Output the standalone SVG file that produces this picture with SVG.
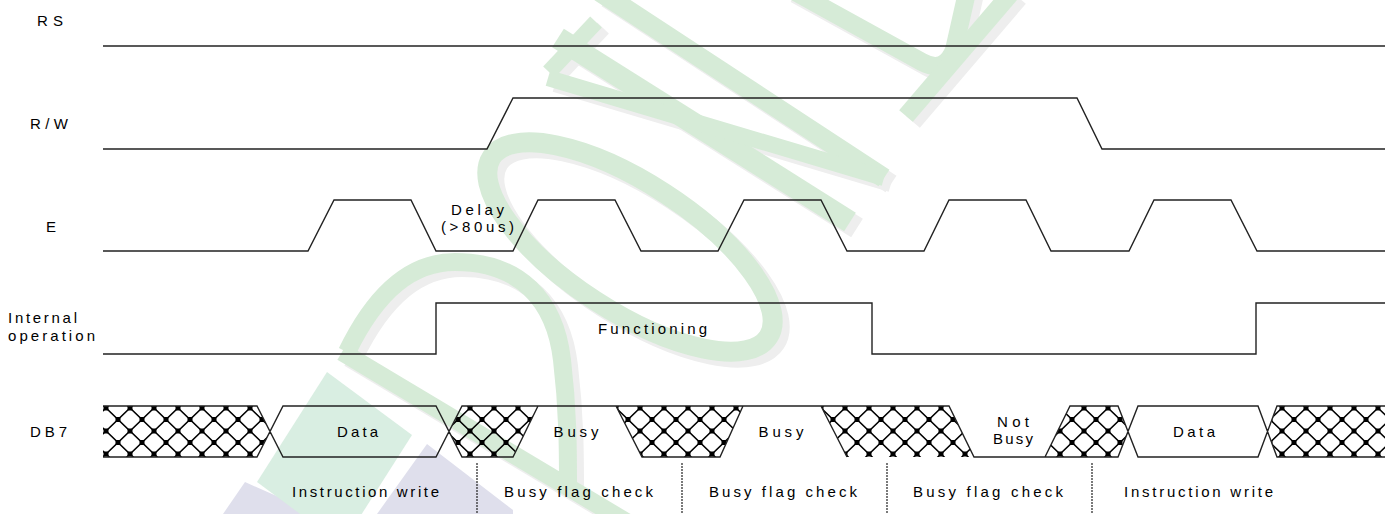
<svg xmlns="http://www.w3.org/2000/svg" xmlns:xlink="http://www.w3.org/1999/xlink" width="1397" height="514" viewBox="0 0 1397 514">
<style>
.sig{fill:none;stroke:#222;stroke-width:1.4;stroke-linejoin:miter}
.lbl{font-family:"Liberation Sans",Arial,sans-serif;font-size:15px;fill:#000}
.mid{text-anchor:middle}
.div{stroke:#222;stroke-width:1.2;stroke-dasharray:2 1}
</style>
<defs>
<pattern id="hx1" patternUnits="userSpaceOnUse" x="106" y="408" width="24" height="23">
<path d="M0,0L24,23M24,0L0,23" stroke="#000" stroke-width="1.6" fill="none"/>
<path d="M-2.5,-2.5h5v5h-5zM21.5,-2.5h5v5h-5zM-2.5,20.5h5v5h-5zM21.5,20.5h5v5h-5zM9.5,9h5v5h-5z" fill="#000"/>
</pattern>
<pattern id="hx2" xlink:href="#hx1" x="470"/>
<pattern id="hx3" xlink:href="#hx1" x="616"/>
<pattern id="hx4" xlink:href="#hx1" x="821"/>
<pattern id="hx5" xlink:href="#hx1" x="1060"/>
<pattern id="hx6" xlink:href="#hx1" x="1282"/>
<g id="wm-shapes" fill="none">
<path d="M342,352 L690,560" stroke-width="18"/>
<path d="M347,352 C378,288 414,262 455,262 C520,262 555,300 562,360 C568,410 568,450 568,487" stroke-width="18"/>
<ellipse cx="630" cy="247" rx="165" ry="64" transform="rotate(33 630 247)" stroke-width="20"/>
<path d="M600,-8 L884,178" stroke-width="20"/>
<path d="M558,38 L850,222" stroke-width="22"/>
<path d="M548,78 L884,178" stroke-width="16"/>
<path d="M549,72 L596,22" stroke-width="16"/>
<path d="M788,-12 L922,62 Q944,74 954,50 L968,-12" stroke-width="18"/>
<path d="M906,116 L1012,-8" stroke-width="18"/>
</g>
</defs>
<rect width="1397" height="514" fill="#fff"/>
<g id="watermark">
<polygon points="223,514 245,482 317,514" fill="#dfdfec"/>
<polygon points="377,514 427,444 513,510 513,514" fill="#dfdfec"/>
<polygon points="257,482 327,372 412,435 342,545" fill="#d9eee2"/>
<use xlink:href="#wm-shapes" transform="translate(7,6)" stroke="#eeeeee"/>
<use xlink:href="#wm-shapes" stroke="#d6ebd7"/>
</g>
<g id="labels-left">
<text class="lbl" x="37" y="26" textLength="26" lengthAdjust="spacing">RS</text>
<text class="lbl" x="30" y="129" textLength="38" lengthAdjust="spacing">R/W</text>
<text class="lbl" x="46" y="232">E</text>
<text class="lbl" x="8" y="323" textLength="69" lengthAdjust="spacing">Internal</text>
<text class="lbl" x="8" y="341" textLength="87" lengthAdjust="spacing">operation</text>
<text class="lbl" x="30" y="437" textLength="37" lengthAdjust="spacing">DB7</text>
</g>
<g id="connectors">
<path id="sig-rs" class="sig" d="M103,46 H1385"/>
<path id="sig-rw" class="sig" d="M103,149 H487 L513,98 H1077 L1102,149 H1385"/>
<path id="sig-e" class="sig" d="M103,251 H308 L334,200 H411 L436,251 H513 L538,200 H615 L641,251 H718 L744,200 H821 L847,251 H924 L949,200 H1026 L1051,251 H1129 L1154,200 H1231 L1257,251 H1385"/>
<path id="sig-int" class="sig" d="M103,354 H436 V303 H872 V354 H1256 V303 H1385"/>
</g>
<g id="db7">
<polygon points="103,406 257,406 270,431.5 257,457 103,457" fill="url(#hx1)"/>
<polygon points="449,431.5 462,406 538,406 513,457 462,457" fill="url(#hx2)"/>
<polygon points="616,406 743,406 720,457 642,457" fill="url(#hx3)"/>
<polygon points="821,406 949,406 974,457 847,457" fill="url(#hx4)"/>
<polygon points="1070,406 1118,406 1128,431.5 1118,457 1045,457" fill="url(#hx5)"/>
<polygon points="1268,431.5 1277,406 1385,406 1385,457 1277,457" fill="url(#hx6)"/>
<path class="sig" d="M103,406 H257 L283,457 H436 L462,406 H949 L974,457 H1118 L1138,406 H1258 L1277,457 H1385 M103,457 H257 L283,406 H436 L462,457 H513 L538,406 M616,406 L642,457 H720 L743,406 M821,406 L847,457 M1045,457 L1070,406 H1118 L1138,457 H1258 L1277,406 H1385"/>
</g>
<g id="text-labels">
<text class="lbl mid" x="477.5" y="215" textLength="53" lengthAdjust="spacing">Delay</text>
<text class="lbl mid" x="477.5" y="232" textLength="73" lengthAdjust="spacing">(&gt;80us)</text>
<text class="lbl mid" x="652.5" y="334" textLength="109" lengthAdjust="spacing">Functioning</text>
<text class="lbl mid" x="357.5" y="437" textLength="41" lengthAdjust="spacing">Data</text>
<text class="lbl mid" x="576" y="437" textLength="45" lengthAdjust="spacing">Busy</text>
<text class="lbl mid" x="781" y="437" textLength="45" lengthAdjust="spacing">Busy</text>
<text class="lbl mid" x="1013" y="427" textLength="32" lengthAdjust="spacing">Not</text>
<text class="lbl mid" x="1013" y="444" textLength="40" lengthAdjust="spacing">Busy</text>
<text class="lbl mid" x="1194" y="437" textLength="42" lengthAdjust="spacing">Data</text>
</g>
<g id="phases">
<line class="div" x1="477" y1="463" x2="477" y2="514"/>
<line class="div" x1="682" y1="463" x2="682" y2="514"/>
<line class="div" x1="887" y1="463" x2="887" y2="514"/>
<line class="div" x1="1092" y1="463" x2="1092" y2="514"/>
<text class="lbl mid" x="365.5" y="497" textLength="147" lengthAdjust="spacing">Instruction write</text>
<text class="lbl mid" x="578.5" y="497" textLength="149" lengthAdjust="spacing">Busy flag check</text>
<text class="lbl mid" x="783" y="497" textLength="148" lengthAdjust="spacing">Busy flag check</text>
<text class="lbl mid" x="988" y="497" textLength="150" lengthAdjust="spacing">Busy flag check</text>
<text class="lbl mid" x="1198.5" y="497" textLength="149" lengthAdjust="spacing">Instruction write</text>
</g>
</svg>
